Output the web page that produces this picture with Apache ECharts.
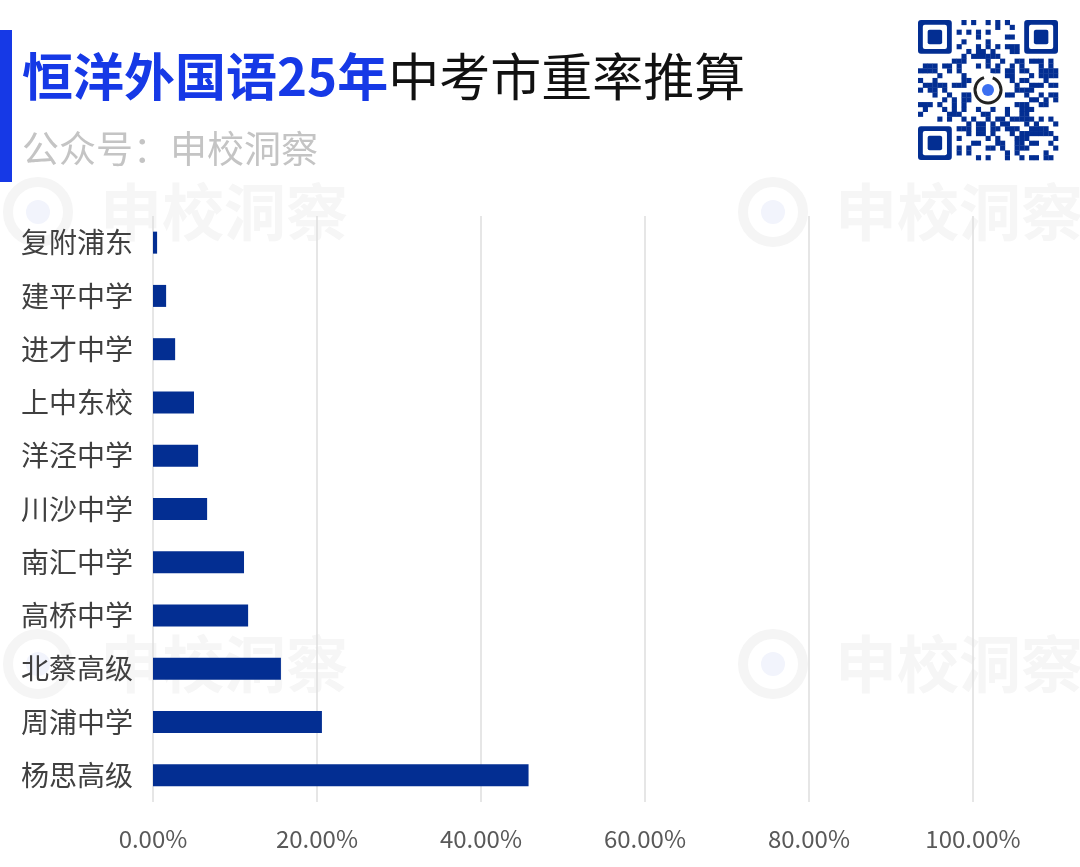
<!DOCTYPE html>
<html>
<head>
<meta charset="utf-8">
<script src="https://cdn.jsdelivr.net/npm/echarts@6/dist/echarts.min.js"></script>
<style>
  html, body { margin: 0; padding: 0; background: #fff; }
  #main { width: 1080px; height: 867px; }
</style>
</head>
<body>
<div id="main"></div>
<script>
// data
const schools = ['复附浦东', '建平中学', '进才中学', '上中东校', '洋泾中学', '川沙中学',
                 '南汇中学', '高桥中学', '北蔡高级', '周浦中学', '杨思高级'];
const rates = [0.005, 0.016, 0.027, 0.050, 0.055, 0.066, 0.111, 0.116, 0.156, 0.206, 0.458];
const xTicks = [0, 0.2, 0.4, 0.6, 0.8, 1.0];

const titleBlue = '#1639e6';
const barBlue = '#032e92';
const FONT = '"Noto Sans CJK SC", "Noto Sans", sans-serif';

// watermark: faint logo + text
function watermark(x, y) {
    return {
        type: 'group', x: x, y: y, silent: true, z: 0,
        children: [
            { type: 'circle', shape: { cx: 38, cy: 32, r: 30 },
              style: { fill: 'none', stroke: '#f5f5f5', lineWidth: 10 } },
            { type: 'circle', shape: { cx: 38, cy: 32, r: 12 }, style: { fill: '#f2f4fc' } },
            { type: 'text', x: 100, y: 32,
              style: { text: '申校洞察', font: 'bold 62px ' + FONT, fill: '#f6f6f6',
                       verticalAlign: 'middle' } }
        ]
    };
}

// decorative stand-in for the QR code (deterministic pattern, not data)
function qrCode(x, y, size) {
    const n = 29, m = size / n, kids = [];
    kids.push({ type: 'rect', shape: { x: 0, y: 0, width: size, height: size }, style: { fill: '#fff' } });
    function finder(cx, cy) {
        kids.push({ type: 'rect', shape: { x: cx * m, y: cy * m, width: 7 * m, height: 7 * m, r: 3 },
                    style: { fill: barBlue } });
        kids.push({ type: 'rect', shape: { x: (cx + 1) * m, y: (cy + 1) * m, width: 5 * m, height: 5 * m, r: 2 },
                    style: { fill: '#fff' } });
        kids.push({ type: 'rect', shape: { x: (cx + 2) * m, y: (cy + 2) * m, width: 3 * m, height: 3 * m, r: 2 },
                    style: { fill: barBlue } });
    }
    for (let i = 0; i < n; i++) {
        for (let j = 0; j < n; j++) {
            const inFinder = (i < 8 && j < 8) || (i < 8 && j > n - 9) || (i > n - 9 && j < 8);
            const inLogo = Math.abs(i - 14) < 4 && Math.abs(j - 14) < 4;
            if (inFinder || inLogo) continue;
            const h = ((i * 73856093) ^ (j * 19349663) ^ (i * j * 83492791)) >>> 0;
            if (h % 7 < 3) {
                kids.push({ type: 'rect', shape: { x: j * m, y: i * m, width: m + 0.3, height: m + 0.3 },
                            style: { fill: barBlue } });
            }
        }
    }
    finder(0, 0); finder(n - 7, 0); finder(0, n - 7);
    kids.push({ type: 'circle', shape: { cx: size / 2, cy: size / 2, r: 17 }, style: { fill: '#fff' } });
    kids.push({ type: 'arc', shape: { cx: size / 2, cy: size / 2, r: 13, startAngle: -1.2, endAngle: 4.4 },
                style: { stroke: '#222', lineWidth: 3, fill: 'none' } });
    kids.push({ type: 'circle', shape: { cx: size / 2, cy: size / 2, r: 6 }, style: { fill: '#3b6ff0' } });
    return { type: 'group', x: x, y: y, children: kids, silent: true };
}

const chart = echarts.init(document.getElementById('main'));

chart.setOption({
    backgroundColor: '#fff',
    animation: false,
    grid: { left: 153, right: 107, top: 216, bottom: 65, containLabel: false },
    xAxis: {
        type: 'value',
        min: 0, max: 1, interval: 0.2,
        axisLine: { show: false },
        axisTick: { show: false },
        splitLine: { show: true, lineStyle: { color: '#dedede', width: 1.5 } },
        axisLabel: {
            margin: 25,
            fontSize: 24, color: '#595959', fontFamily: FONT,
            formatter: function (v) { return (v * 100).toFixed(2) + '%'; }
        }
    },
    yAxis: {
        type: 'category',
        data: schools,
        inverse: true,
        axisLine: { show: false },
        axisTick: { show: false },
        axisLabel: { margin: 20, fontSize: 28, color: '#404040', fontFamily: FONT }
    },
    series: [{
        type: 'bar',
        data: rates,
        barWidth: 22,
        itemStyle: { color: barBlue },
        z: 3
    }],
    graphic: [
        watermark(0, 180), watermark(735, 180), watermark(0, 632), watermark(735, 632),
        { type: 'rect', shape: { x: 0, y: 30, width: 12, height: 152 }, style: { fill: titleBlue } },
        { type: 'text', x: 22, y: 77,
          style: {
              rich: {
                  a: { fontSize: 51, fontWeight: 'bold', fill: titleBlue, fontFamily: FONT },
                  b: { fontSize: 51, fill: '#111', fontFamily: FONT }
              },
              text: '{a|恒洋外国语25年}{b|中考市重率推算}',
              verticalAlign: 'middle'
          } },
        { type: 'text', x: 22, y: 149,
          style: { text: '公众号：申校洞察', font: '37px ' + FONT, fill: '#c4c4c4', verticalAlign: 'middle' } },
        qrCode(918, 20, 140)
    ]
});
</script>
</body>
</html>
